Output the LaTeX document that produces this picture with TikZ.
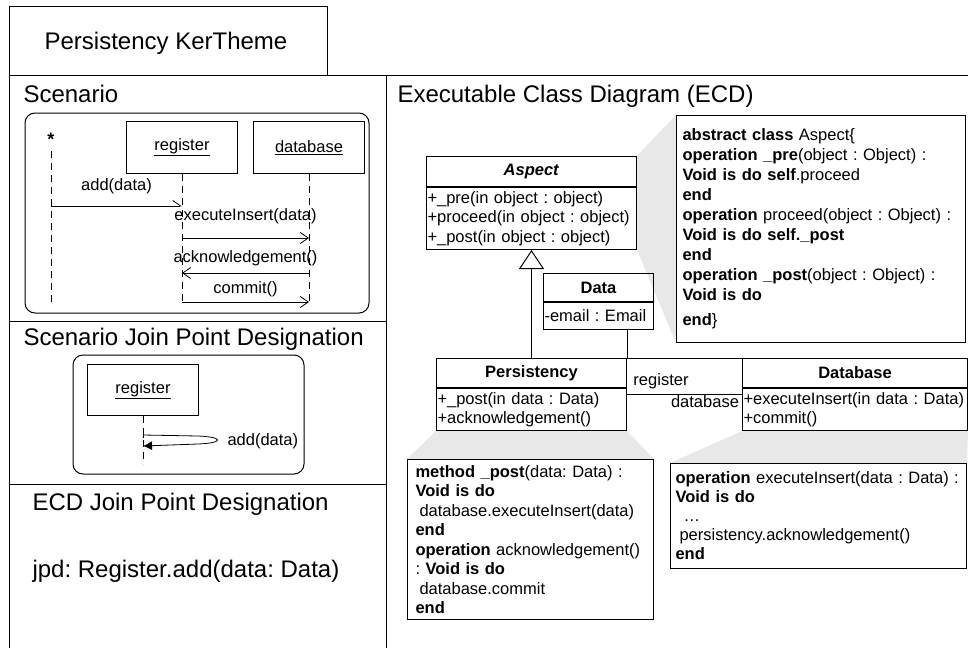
\documentclass[tikz,border=0pt]{standalone}
\usepackage{fontspec}
\setmainfont{Liberation Sans}
\usepackage{tikz}
\usetikzlibrary{arrows.meta,calc,backgrounds}
\frenchspacing

\newcommand{\bigtxt}{\fontsize{24}{28}\selectfont}
\newcommand{\smtxt}{\fontsize{16.5}{19.5}\selectfont}

\begin{document}
\begin{tikzpicture}[x=1pt, y=-1pt, line width=1pt,
    sectitle/.style={font=\bigtxt, anchor=base west, inner sep=0pt},
    lbl/.style={font=\smtxt, inner sep=0pt},
    lifeobj/.style={draw, anchor=north west, minimum width=111pt, minimum height=52pt, inner sep=0pt, font=\smtxt},
    lifeline/.style={line width=0.8pt, dash pattern=on 7pt off 5pt},
    msg/.style={line width=0.8pt, -{Straight Barb[length=8pt, width=11pt]}},
    clshead/.style={draw, anchor=north west, inner sep=0pt, font=\smtxt\bfseries},
    clsbody/.style={draw, anchor=north west, inner xsep=1pt, inner ysep=0pt, align=left, font=\smtxt},
    codenote/.style={draw, fill=white, anchor=north west, inner ysep=0pt, align=left, font=\smtxt},
    callout/.style={fill=black!9, draw=none}]

    \useasboundingbox (0,0) rectangle (969,648);

    \draw (9,6) rectangle (327,75);
    \node[font=\bigtxt, anchor=base, inner sep=0pt] (theme) at (166,49) {Persistency KerTheme};
    \draw (9,75) to (968,75);
    \draw (9,75) to (9,648);
    \draw (386,75) to (386,648);
    \draw (9,321) to (386,321);
    \draw (9,484) to (386,484);

    \node[sectitle] (scen) at (23,102) {Scenario};
    \node[sectitle] (sjpd) at (23,345) {Scenario Join Point Designation};
    \node[sectitle] (ejpd) at (32,510) {ECD Join Point Designation};
    \node[sectitle] (jpd) at (32,577) {jpd: Register.add(data: Data)};
    \node[sectitle] (ecd) at (397,102) {Executable Class Diagram (ECD)};

    % scenario
    \draw[rounded corners=10pt] (25,113) rectangle (369,313);
    \node[font=\fontsize{18}{18}\selectfont\bfseries, anchor=north, inner sep=0pt] (actor) at (51,133) {*};
    \node[lifeobj] (reg) at (126,121) {\underline{register}};
    \node[lifeobj] (dbs) at (253,121) {\underline{database}};
    \draw[lifeline] ($(actor.south)+(0,5)$) to (actor.south |- 0,302);
    \foreach \o in {reg,dbs}
    {
    \draw[lifeline] (\o.south) to (\o.south |- 0,302);
    }
    \draw[line width=0.8pt, -{Straight Barb[left, length=8pt, width=11pt]}] (actor.south |- 0,206) to node[lbl, midway, above=12pt] (m1) {add(data)} (reg.south |- 0,206);
    \foreach \from/\to/\y/\lab/\sh in {reg/dbs/238/executeInsert(data)/14pt, dbs/reg/273/acknowledgement()/7pt, reg/dbs/302/commit()/5pt}
    {
    \draw[msg] (\from.south |- 0,\y) to node[lbl, midway, above=\sh] (m\y) {\lab} (\to.south |- 0,\y);
    }

    % join point
    \draw[rounded corners=10pt] (73,355) rectangle (304,474);
    \node[lifeobj, minimum height=51pt] (reg2) at (87,364) {\underline{register}};
    \draw[lifeline] (reg2.south) to (reg2.south |- 0,464);
    \draw[line width=0.8pt, {Bar[width=6pt]}-{Latex[length=9pt, width=9pt]}] (reg2.south |- 0,435) to (198,436) .. controls (224,437) and (224,443) .. (198,444) to (reg2.south |- 0,446);
    \node[lbl, anchor=west] (selfmsg) at (227,441) {add(data)};

    % class diagram
    \node[clshead, minimum width=210pt, minimum height=30pt] (asp) at (426,156) {\textit{Aspect}};
    \node[clsbody, text width=208pt, minimum height=62pt] (aspb) at (asp.south west) {+\_pre(in object : object)\\+proceed(in object : object)\\+\_post(in object : object)};
    \node[clshead, minimum width=110pt, minimum height=28pt] (data) at (543,273) {Data};
    \node[clsbody, text width=108pt, minimum height=27pt] (datab) at (data.south west) {-email : Email};
    \node[clshead, minimum width=190pt, minimum height=29pt] (pers) at (436,358) {Persistency};
    \node[clsbody, text width=188pt, minimum height=42pt] (persb) at (pers.south west) {+\_post(in data : Data)\\+acknowledgement()};
    \node[clshead, minimum width=225pt, minimum height=29pt] (db) at (742,358) {Database};
    \node[clsbody, text width=223pt, minimum height=42pt] (dbb) at (db.south west) {+executeInsert(in data : Data)\\+commit()};

    \draw[-{Triangle[open, length=19pt, width=25pt]}] (pers.north) to (aspb.south);
    \draw (datab.south -| pers.north east) to (pers.north east) to (db.north west);
    \draw (persb.east |- 0,394) to (dbb.west |- 0,394);
    \node[lbl] (rreg) at (661,381) {register};
    \node[lbl] (rdb) at (705,402) {database};

    \node[codenote, inner xsep=6pt, text width=277pt, minimum height=227pt, font=\fontsize{16.5}{20}\selectfont] (n1) at (676,115) {\textbf{abstract class} Aspect\{\\
    \textbf{operation \_pre}(object : Object) :\\
    \textbf{Void is do self}.proceed\\
    \textbf{end}\\
    \textbf{operation} proceed(object : Object) :\\
    \textbf{Void is do self.\_post}\\
    \textbf{end}\\
    \textbf{operation \_post}(object : Object) :\\
    \textbf{Void is do}\\[5pt]
    \textbf{end}\}};
    \node[codenote, inner xsep=8pt, text width=230pt, minimum height=160pt] (n2) at (407,459) {\textbf{method \_post}(data: Data) :\\
    \textbf{Void is do}\\
    \hspace*{4pt}database.executeInsert(data)\\
    \textbf{end}\\
    \textbf{operation} acknowledgement()\\
    : \textbf{Void is do}\\
    \hspace*{4pt}database.commit\\
    \textbf{end}};
    \node[codenote, inner xsep=5pt, text width=286pt, minimum height=105pt, font=\fontsize{16.5}{19}\selectfont] (n3) at (670,463) {\textbf{operation} executeInsert(data : Data) :\\
    \textbf{Void is do}\\
    \hspace*{8pt}\ldots\\
    \hspace*{4pt}persistency.acknowledgement()\\
    \textbf{end}};

    \begin{scope}[on background layer]
    \fill[callout] (asp.north east) to (n1.north west) to (n1.south west) to (aspb.south east) -- cycle;
    \fill[callout] (persb.south west) to (persb.south east) to (n2.north east) to (n2.north west) -- cycle;
    \fill[callout] (dbb.south west) to (dbb.south east) to (n3.north east) to (n3.north west) -- cycle;
    \end{scope}
\end{tikzpicture}
\end{document}
